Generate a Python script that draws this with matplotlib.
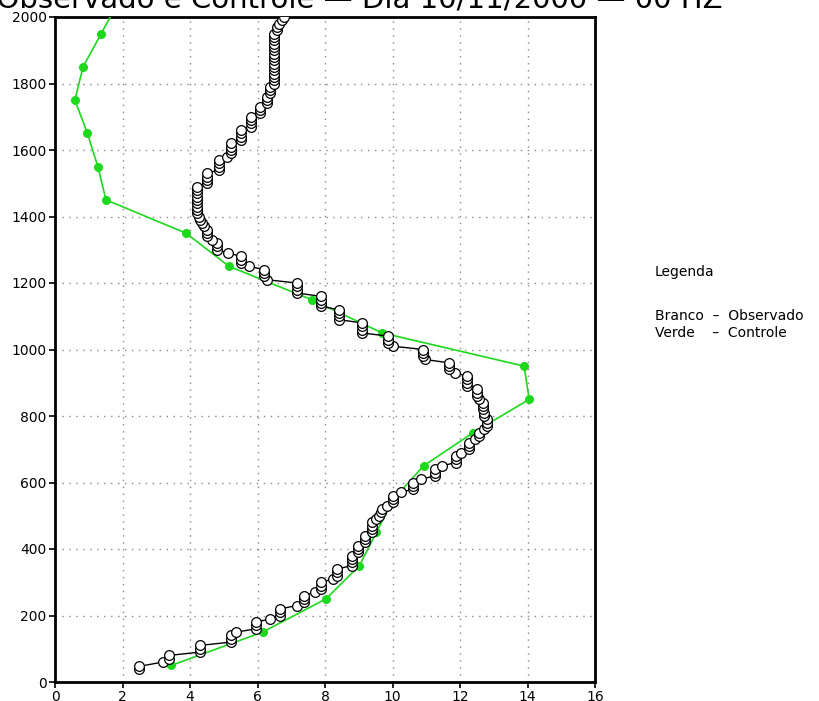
import matplotlib
matplotlib.use("Agg")
import matplotlib.pyplot as plt

# Observed profile (white circles): height (m) and wind speed
obs_h = [40, 47, 60, 70, 80, 90, 100, 110, 120, 130, 140, 150, 160, 170, 180, 190,
         200, 210, 220, 230, 240, 250, 260, 270, 280, 290, 300, 310, 320, 330, 340,
         350, 360, 370, 380, 390, 400, 410, 420, 430, 440, 450, 460, 470, 480, 490,
         500, 510, 520, 530, 540, 550, 560, 570, 580, 590, 600, 610, 620, 630, 640,
         650, 660, 670, 680, 690, 700, 710, 720, 730, 740, 750, 760, 770, 780, 790,
         800, 810, 820, 830, 840, 850, 860, 870, 880, 890, 900, 910, 920, 930, 940,
         950, 960, 970, 980, 990, 1000, 1010, 1020, 1030, 1040, 1050, 1060, 1070,
         1080, 1090, 1100, 1110, 1120, 1130, 1140, 1150, 1160, 1170, 1180, 1190,
         1200, 1210, 1220, 1230, 1240, 1250, 1260, 1270, 1280, 1290, 1300, 1310,
         1320, 1330, 1340, 1350, 1360, 1370, 1380, 1390, 1400, 1410, 1420, 1430,
         1440, 1450, 1460, 1470, 1480, 1490, 1500, 1510, 1520, 1530, 1540, 1550,
         1560, 1570, 1580, 1590, 1600, 1610, 1620, 1630, 1640, 1650, 1660, 1670,
         1680, 1690, 1700, 1710, 1720, 1730, 1740, 1750, 1760, 1770, 1780, 1790,
         1800, 1810, 1820, 1830, 1840, 1850, 1860, 1870, 1880, 1890, 1900, 1910,
         1920, 1930, 1940, 1950, 1960, 1970, 1980, 1990, 2000]
obs_v = [2.5, 2.5, 3.19, 3.39, 3.39, 4.3, 4.3, 4.3, 5.21, 5.21, 5.21, 5.36, 5.97, 5.97,
         5.97, 6.37, 6.68, 6.68, 6.68, 7.16, 7.39, 7.39, 7.39, 7.7, 7.88, 7.88, 7.88,
         8.25, 8.37, 8.37, 8.37, 8.79, 8.81, 8.81, 8.81, 8.99, 8.99, 8.99, 9.19, 9.19,
         9.19, 9.38, 9.38, 9.38, 9.38, 9.5, 9.6, 9.65, 9.7, 9.85, 10.0, 10.0, 10.0,
         10.25, 10.6, 10.6, 10.6, 10.85, 11.26, 11.26, 11.26, 11.47, 11.87, 11.87,
         11.87, 12.03, 12.28, 12.28, 12.28, 12.45, 12.56, 12.56, 12.7, 12.79, 12.79,
         12.79, 12.72, 12.7, 12.68, 12.67, 12.67, 12.55, 12.5, 12.49, 12.49, 12.2,
         12.2, 12.2, 12.2, 11.85, 11.67, 11.67, 11.67, 10.96, 10.91, 10.91, 10.91,
         10.0, 9.88, 9.88, 9.88, 9.09, 9.09, 9.09, 9.09, 8.4, 8.4, 8.4, 8.4, 7.87,
         7.87, 7.87, 7.87, 7.16, 7.16, 7.16, 7.16, 6.27, 6.2, 6.2, 6.2, 5.76, 5.5,
         5.5, 5.5, 5.14, 4.79, 4.79, 4.79, 4.64, 4.49, 4.49, 4.49, 4.4, 4.35, 4.3,
         4.28, 4.2, 4.2, 4.2, 4.2, 4.2, 4.2, 4.2, 4.2, 4.2, 4.49, 4.49, 4.49, 4.49,
         4.87, 4.87, 4.87, 4.87, 5.09, 5.2, 5.2, 5.2, 5.2, 5.5, 5.5, 5.5, 5.5, 5.8,
         5.8, 5.8, 5.8, 6.07, 6.07, 6.07, 6.29, 6.29, 6.29, 6.37, 6.37, 6.37, 6.5,
         6.5, 6.5, 6.5, 6.5, 6.5, 6.5, 6.5, 6.5, 6.5, 6.5, 6.5, 6.5, 6.5, 6.5, 6.5,
         6.57, 6.57, 6.65, 6.72, 6.79]

# Control run (green)
ctl_h = [50, 150, 250, 350, 450, 550, 650, 750, 850, 950, 1050, 1150, 1250, 1350,
         1450, 1550, 1650, 1750, 1850, 1950, 2050]
ctl_v = [3.45, 6.15, 8.03, 9.02, 9.52, 10.03, 10.92, 12.39, 14.05, 13.9, 9.69, 7.6,
         5.16, 3.88, 1.51, 1.27, 0.96, 0.59, 0.83, 1.37, 1.9]

xticks = [0, 2, 4, 6, 8, 10, 12, 14, 16]
yticks = [0, 200, 400, 600, 800, 1000, 1200, 1400, 1600, 1800, 2000]

title = "Perfil do Vento Observado e Controle \u2014 Dia 10/11/2000 \u2014 00 HZ"
legend_title = "Legenda"
legend_lines = ["Branco  \u2013  Observado", "Verde    \u2013  Controle"]

fig = plt.figure(figsize=(8.19, 7.01), dpi=100)
ax = fig.add_axes([55 / 819, 1 - 682 / 701, 540 / 819, 665 / 701])

ax.plot(ctl_v, ctl_h, color="#1ed81e", lw=1.2, marker="o", ms=5.5,
        mfc="#1ed81e", mec="#1ed81e", zorder=3)
ax.plot(obs_v, obs_h, color="black", lw=1.0, marker="o", ms=7,
        mfc="white", mec="black", mew=0.9, zorder=4)

ax.set_xlim(0, 16)
ax.set_ylim(0, 2000)
ax.set_xticks(xticks)
ax.set_yticks(yticks)
ax.grid(True, color="#888888", linestyle=(0, (1, 4)), linewidth=1.0)
ax.set_axisbelow(True)
for s in ax.spines.values():
    s.set_linewidth(2)
ax.tick_params(direction="out", length=4, width=1.2, labelsize=10, pad=2)

fig.text(722 / 819, 1 - 7 / 701, title, ha="right", va="baseline", fontsize=21)

fig.text(655 / 819, 1 - 272 / 701, legend_title, ha="left", va="center", fontsize=10)
fig.text(655 / 819, 1 - 316 / 701, legend_lines[0], ha="left", va="center", fontsize=10)
fig.text(655 / 819, 1 - 333 / 701, legend_lines[1], ha="left", va="center", fontsize=10)

fig.savefig("out.png", dpi=100)
